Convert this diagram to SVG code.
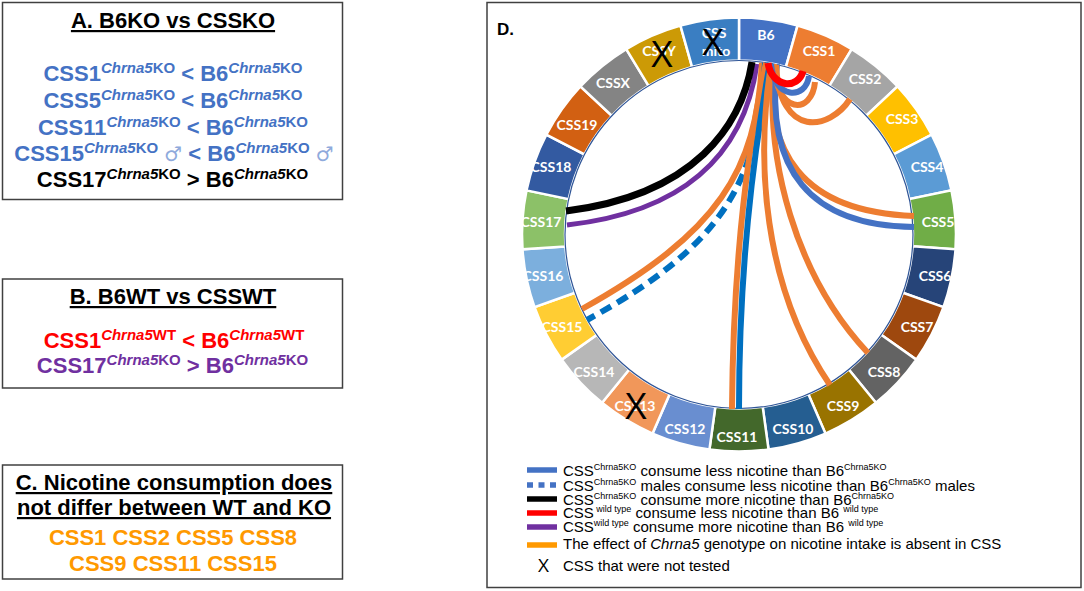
<svg xmlns="http://www.w3.org/2000/svg" xmlns:xlink="http://www.w3.org/1999/xlink" width="1084" height="591" viewBox="0 0 1084 591">
<defs>
<path id="seg" d="M0,-217 A217,217 0 0 1 58.55,-208.95 L46.94,-167.55 A174,174 0 0 0 0,-174 Z"/>
<style>
.box{fill:#fff;stroke:#404040;stroke-width:1.5}
.t{font-family:"Liberation Sans",Arial,sans-serif;font-weight:bold;font-size:22px;text-anchor:middle}
.u{text-decoration:underline}
.sup{font-size:15px}
.i{font-style:italic}
.male{fill:#8FAADC;font-family:"DejaVu Sans",sans-serif;font-weight:normal;font-size:20px}
.seg{stroke:#fff;stroke-width:2.5}
.lbl{font-family:Lato,"Liberation Sans",sans-serif;font-weight:bold;font-size:14px;fill:#fff;text-anchor:middle}
.xm{font-family:"Open Sans","Liberation Sans",sans-serif;font-size:37px;fill:#000;text-anchor:middle}
.ch{fill:none}
.or{stroke:#ED7D31;stroke-width:6}
.lg{font-family:"Liberation Sans",Arial,sans-serif;font-size:15px;fill:#000}
.ls{font-size:9px}
.sw{stroke-width:5.5}
</style>
</defs>
<rect width="1084" height="591" fill="#fff"/>

<g id="panelA">
<rect class="box" x="2.5" y="2.5" width="340" height="197"/>
<text class="t u" x="173" y="28" fill="#000">A. B6KO vs CSSKO</text>
<text class="t" x="173" y="81" fill="#4472C4">CSS1<tspan class="sup" dy="-8"><tspan class="i">Chrna5</tspan>KO</tspan><tspan dy="8"> &lt; B6</tspan><tspan class="sup" dy="-8"><tspan class="i">Chrna5</tspan>KO</tspan></text>
<text class="t" x="173" y="108" fill="#4472C4">CSS5<tspan class="sup" dy="-8"><tspan class="i">Chrna5</tspan>KO</tspan><tspan dy="8"> &lt; B6</tspan><tspan class="sup" dy="-8"><tspan class="i">Chrna5</tspan>KO</tspan></text>
<text class="t" x="173" y="135" fill="#4472C4">CSS11<tspan class="sup" dy="-8"><tspan class="i">Chrna5</tspan>KO</tspan><tspan dy="8"> &lt; B6</tspan><tspan class="sup" dy="-8"><tspan class="i">Chrna5</tspan>KO</tspan></text>
<text class="t" x="174" y="161" fill="#4472C4">CSS15<tspan class="sup" dy="-8"><tspan class="i">Chrna5</tspan>KO</tspan><tspan dy="8"> </tspan><tspan class="male">♂</tspan><tspan> &lt; B6</tspan><tspan class="sup" dy="-8"><tspan class="i">Chrna5</tspan>KO</tspan><tspan dy="8"> </tspan><tspan class="male">♂</tspan></text>
<text class="t" x="172.5" y="187" fill="#000">CSS17<tspan class="sup" dy="-8"><tspan class="i">Chrna5</tspan>KO</tspan><tspan dy="8"> &gt; B6</tspan><tspan class="sup" dy="-8"><tspan class="i">Chrna5</tspan>KO</tspan></text>
</g>

<g id="panelB">
<rect class="box" x="2.5" y="279" width="340" height="109"/>
<text class="t u" x="173" y="304" fill="#000">B. B6WT vs CSSWT</text>
<text class="t" x="174" y="348" fill="#FF0000">CSS1<tspan class="sup" dy="-8"><tspan class="i">Chrna5</tspan>WT</tspan><tspan dy="8"> &lt; B6</tspan><tspan class="sup" dy="-8"><tspan class="i">Chrna5</tspan>WT</tspan></text>
<text class="t" x="172.5" y="373" fill="#7030A0">CSS17<tspan class="sup" dy="-8"><tspan class="i">Chrna5</tspan>KO</tspan><tspan dy="8"> &gt; B6</tspan><tspan class="sup" dy="-8"><tspan class="i">Chrna5</tspan>KO</tspan></text>
</g>

<g id="panelC">
<rect class="box" x="2.5" y="465" width="340" height="114"/>
<text class="t u" x="174" y="490" fill="#000">C. Nicotine consumption does</text>
<text class="t u" x="174" y="515" fill="#000">not differ between WT and KO</text>
<text class="t" x="173" y="545" fill="#FF9900">CSS1 CSS2 CSS5 CSS8</text>
<text class="t" x="173" y="571" fill="#FF9900">CSS9 CSS11 CSS15</text>
</g>

<g id="panelD">
<rect class="box" x="487" y="2.5" width="594" height="585" fill="none"/>
<text x="497" y="35" font-family="Liberation Sans, Arial, sans-serif" font-weight="bold" font-size="17">D.</text>
</g>

<g id="ring">
<g id="n-B6"><use xlink:href="#seg" href="#seg" class="seg" fill="#4472C4" transform="translate(739 234.5) rotate(0)"/><text class="lbl" x="766" y="40">B6</text></g>
<g id="n-CSS1"><use xlink:href="#seg" href="#seg" class="seg" fill="#ED7D31" transform="translate(739 234.5) rotate(15.652)"/><text class="lbl" x="819" y="56">CSS1</text></g>
<g id="n-CSS2"><use xlink:href="#seg" href="#seg" class="seg" fill="#A5A5A5" transform="translate(739 234.5) rotate(31.304)"/><text class="lbl" x="865" y="84">CSS2</text></g>
<g id="n-CSS3"><use xlink:href="#seg" href="#seg" class="seg" fill="#FFC000" transform="translate(739 234.5) rotate(46.957)"/><text class="lbl" x="902" y="124">CSS3</text></g>
<g id="n-CSS4"><use xlink:href="#seg" href="#seg" class="seg" fill="#5B9BD5" transform="translate(739 234.5) rotate(62.609)"/><text class="lbl" x="927" y="172">CSS4</text></g>
<g id="n-CSS5"><use xlink:href="#seg" href="#seg" class="seg" fill="#70AD47" transform="translate(739 234.5) rotate(78.261)"/><text class="lbl" x="938" y="227">CSS5</text></g>
<g id="n-CSS6"><use xlink:href="#seg" href="#seg" class="seg" fill="#264478" transform="translate(739 234.5) rotate(93.913)"/><text class="lbl" x="935" y="281">CSS6</text></g>
<g id="n-CSS7"><use xlink:href="#seg" href="#seg" class="seg" fill="#9E480E" transform="translate(739 234.5) rotate(109.565)"/><text class="lbl" x="917" y="332">CSS7</text></g>
<g id="n-CSS8"><use xlink:href="#seg" href="#seg" class="seg" fill="#636363" transform="translate(739 234.5) rotate(125.217)"/><text class="lbl" x="884" y="377">CSS8</text></g>
<g id="n-CSS9"><use xlink:href="#seg" href="#seg" class="seg" fill="#997300" transform="translate(739 234.5) rotate(140.870)"/><text class="lbl" x="843" y="411">CSS9</text></g>
<g id="n-CSS10"><use xlink:href="#seg" href="#seg" class="seg" fill="#255E91" transform="translate(739 234.5) rotate(156.522)"/><text class="lbl" x="793" y="434">CSS10</text></g>
<g id="n-CSS11"><use xlink:href="#seg" href="#seg" class="seg" fill="#43682B" transform="translate(739 234.5) rotate(172.174)"/><text class="lbl" x="737" y="442">CSS11</text></g>
<g id="n-CSS12"><use xlink:href="#seg" href="#seg" class="seg" fill="#698ED0" transform="translate(739 234.5) rotate(187.826)"/><text class="lbl" x="685" y="434">CSS12</text></g>
<g id="n-CSS13"><use xlink:href="#seg" href="#seg" class="seg" fill="#F1975A" transform="translate(739 234.5) rotate(203.478)"/><text class="lbl" x="635" y="411">CSS13</text><text class="xm" x="636" y="419">X</text></g>
<g id="n-CSS14"><use xlink:href="#seg" href="#seg" class="seg" fill="#B7B7B7" transform="translate(739 234.5) rotate(219.130)"/><text class="lbl" x="594" y="377">CSS14</text></g>
<g id="n-CSS15"><use xlink:href="#seg" href="#seg" class="seg" fill="#FFCD33" transform="translate(739 234.5) rotate(234.783)"/><text class="lbl" x="562" y="332">CSS15</text></g>
<g id="n-CSS16"><use xlink:href="#seg" href="#seg" class="seg" fill="#7CAFDD" transform="translate(739 234.5) rotate(250.435)"/><text class="lbl" x="543" y="281">CSS16</text></g>
<g id="n-CSS17"><use xlink:href="#seg" href="#seg" class="seg" fill="#8CC168" transform="translate(739 234.5) rotate(266.087)"/><text class="lbl" x="541" y="227">CSS17</text></g>
<g id="n-CSS18"><use xlink:href="#seg" href="#seg" class="seg" fill="#335AA1" transform="translate(739 234.5) rotate(281.739)"/><text class="lbl" x="551" y="172">CSS18</text></g>
<g id="n-CSS19"><use xlink:href="#seg" href="#seg" class="seg" fill="#D26012" transform="translate(739 234.5) rotate(297.391)"/><text class="lbl" x="577" y="130">CSS19</text></g>
<g id="n-CSSX"><use xlink:href="#seg" href="#seg" class="seg" fill="#848484" transform="translate(739 234.5) rotate(313.043)"/><text class="lbl" x="613" y="88">CSSX</text></g>
<g id="n-CSSY"><use xlink:href="#seg" href="#seg" class="seg" fill="#CC9A06" transform="translate(739 234.5) rotate(328.696)"/><text class="lbl" x="659" y="56">CSSY</text><text class="xm" x="662" y="67">X</text></g>
<g id="n-CSSmito"><use xlink:href="#seg" href="#seg" class="seg" fill="#3A7EC2" transform="translate(739 234.5) rotate(344.348)"/><text class="lbl" x="714" y="38">CSS</text><text class="lbl" x="716" y="56">mito</text><text class="xm" x="713" y="55">X</text></g>
<circle cx="739" cy="234.5" r="174" fill="none" stroke="#2F5597" stroke-width="1.2"/>
</g>

<g id="connectors">
<path class="ch" stroke="#7030A0" stroke-width="5" d="M757,64 C746,140 700,210 567,225"/>
<path class="ch" stroke="#000" stroke-width="7" d="M752,62 C742,125 695,195 566,211"/>
<path class="ch or" d="M762,63 C756,170 720,232 582,309"/>
<path class="ch" stroke="#0070C0" stroke-width="6" stroke-dasharray="12 7" d="M765,63 C758,180 726,244 587,320"/>
<path class="ch or" d="M766,63 C745,160 733,280 732,409"/>
<path class="ch" stroke="#0070C0" stroke-width="6" d="M770,63 C752,160 739,280 739,409"/>
<path class="ch or" d="M771,64 C756,160 762,285 830,385"/>
<path class="ch or" d="M774,64 C765,160 795,275 868,353"/>
<path class="ch or" d="M773,64 C765,150 800,212 914,216"/>
<path class="ch" stroke="#4472C4" stroke-width="6" d="M777,64 C765,170 810,226 914,227"/>
<path class="ch or" d="M776,65 C780,140 830,130 850,99"/>
<path class="ch or" d="M774,64 C776,115 812,115 815,82"/>
<path class="ch" stroke="#4472C4" stroke-width="6" d="M771,64 C774,100 806,100 809,76"/>
<path class="ch" stroke="#FF0000" stroke-width="7" d="M768,63 C772,88 798,90 803,71"/>
</g>

<g id="legend">
<line class="sw" x1="527" y1="470" x2="557" y2="470" stroke="#4472C4"/>
<text class="lg" x="563" y="476">CSS<tspan class="ls" dy="-6">Chrna5KO</tspan><tspan dy="6"> consume less nicotine than B6</tspan><tspan class="ls" dy="-6">Chrna5KO</tspan></text>
<line class="sw" x1="527" y1="485" x2="557" y2="485" stroke="#4472C4" stroke-dasharray="6 5.5"/>
<text class="lg" x="563" y="491">CSS<tspan class="ls" dy="-6">Chrna5KO</tspan><tspan dy="6"> males consume less nicotine than B6</tspan><tspan class="ls" dy="-6">Chrna5KO</tspan><tspan dy="6"> males</tspan></text>
<line class="sw" x1="527" y1="499" x2="557" y2="499" stroke="#000"/>
<text class="lg" x="563" y="505">CSS<tspan class="ls" dy="-6">Chrna5KO</tspan><tspan dy="6"> consume more nicotine than B6</tspan><tspan class="ls" dy="-6">Chrna5KO</tspan></text>
<line class="sw" x1="527" y1="513" x2="557" y2="513" stroke="#FF0000"/>
<text class="lg" x="563" y="518">CSS<tspan class="ls" dy="-6"> wild type</tspan><tspan dy="6"> consume less nicotine than B6 </tspan><tspan class="ls" dy="-6">wild type</tspan></text>
<line class="sw" x1="527" y1="527" x2="557" y2="527" stroke="#7030A0"/>
<text class="lg" x="563" y="532">CSS<tspan class="ls" dy="-6">wild type</tspan><tspan dy="6"> consume more nicotine than B6 </tspan><tspan class="ls" dy="-6">wild type</tspan></text>
<line class="sw" x1="527" y1="545" x2="557" y2="545" stroke="#FF9900"/>
<text class="lg" x="563" y="549">The effect of <tspan font-style="italic">Chrna5</tspan> genotype on nicotine intake is absent in CSS</text>
<text x="543.5" y="572" font-family="Open Sans, Liberation Sans, sans-serif" font-size="19" text-anchor="middle">X</text>
<text class="lg" x="563" y="571">CSS that were not tested</text>
</g>
</svg>
